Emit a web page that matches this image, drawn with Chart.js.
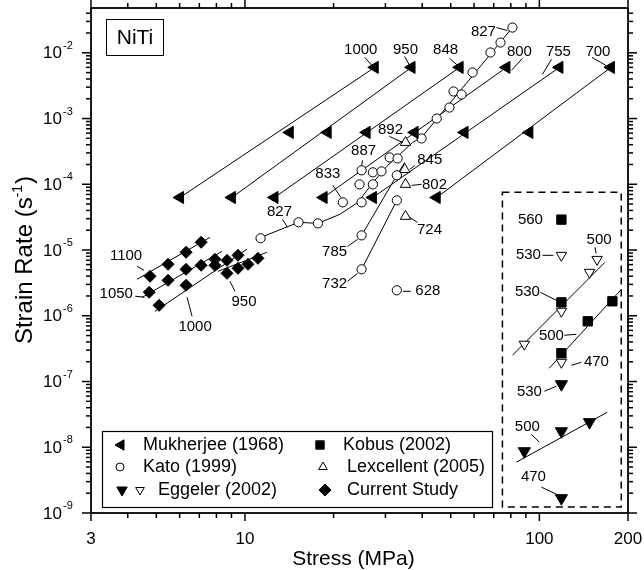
<!DOCTYPE html>
<html>
<head>
<meta charset="utf-8">
<script src="https://cdn.jsdelivr.net/npm/chart.js@4.4.1/dist/chart.umd.min.js"></script>
<style>
  body { margin: 0; background: #fff; }
</style>
</head>
<body>
<canvas id="chart" width="644" height="570"></canvas>
<script>
// stress (MPa) vs strain rate (1/s)
var mukherjee = [
  [27.6, 6.0e-3], [36.8, 6.0e-3], [53.6, 6.0e-3], [77.3, 6.0e-3], [117, 6.0e-3], [175, 6.0e-3],
  [14.2, 6.15e-4], [19.1, 6.15e-4], [25.9, 6.15e-4], [37.7, 6.15e-4], [55.7, 6.15e-4], [92.5, 6.15e-4],
  [6.02, 6.3e-5], [9.03, 6.3e-5], [12.6, 6.3e-5], [18.5, 6.3e-5], [27.2, 6.3e-5], [44.8, 6.3e-5]
];
var mukherjeeLines = [
  [[27.6, 6.0e-3], [6.02, 6.3e-5]],
  [[36.8, 6.0e-3], [9.03, 6.3e-5]],
  [[53.6, 6.0e-3], [12.6, 6.3e-5]],
  [[77.3, 6.0e-3], [18.5, 6.3e-5]],
  [[117, 6.0e-3], [27.2, 6.3e-5]],
  [[175, 6.0e-3], [44.8, 6.3e-5]]
];
var kato = [
  [81.0, 2.42e-2], [73.8, 1.43e-2], [68.2, 1.01e-2], [59.3, 5.02e-3], [51.1, 2.58e-3], [54.4, 2.32e-3],
  [49.5, 1.47e-3], [44.8, 1.0e-3], [39.8, 4.98e-4], [31.0, 2.56e-4], [33.0, 2.47e-4], [24.9, 1.63e-4],
  [27.2, 1.52e-4], [29.1, 1.57e-4], [24.5, 9.97e-5], [27.2, 9.97e-5], [21.5, 5.31e-5], [24.9, 5.31e-5],
  [32.8, 1.37e-4], [32.8, 5.69e-5], [24.9, 1.67e-5], [24.9, 5.09e-6], [32.8, 2.44e-6],
  [11.3, 1.51e-5], [15.2, 2.64e-5], [17.7, 2.54e-5]
];
var kato827 = [[10.9, 1.45e-5], [15.2, 2.64e-5], [17.7, 2.54e-5], [21.0, 3.49e-5], [24.2, 5.31e-5],
  [26.9, 9.97e-5], [30.3, 1.87e-4], [33.0, 2.65e-4], [37.1, 4.33e-4], [39.8, 5.16e-4], [81.0, 2.42e-2]];
var kato785 = [[24.9, 1.67e-5], [32.8, 1.37e-4], [34.9, 2.16e-4]];
var kato732 = [[24.9, 5.09e-6], [32.8, 5.69e-5]];
var lexcellent = [[35.1, 4.33e-4], [34.9, 1.68e-4], [35.1, 9.97e-5], [35.1, 3.25e-5]];
var current = [
  [4.76, 3.98e-6], [5.48, 6.06e-6], [6.31, 9.23e-6], [7.10, 1.31e-5],
  [4.73, 2.28e-6], [5.48, 3.46e-6], [6.31, 5.09e-6], [7.10, 5.85e-6], [7.91, 7.22e-6],
  [5.11, 1.44e-6], [6.31, 2.91e-6], [7.91, 5.85e-6], [8.69, 6.97e-6], [9.47, 8.31e-6],
  [8.69, 4.42e-6], [9.47, 5.27e-6], [10.24, 6.06e-6], [11.07, 7.48e-6]
];
var currentLines = [
  [[4.30, 3.59e-6], [7.61, 1.56e-5]],
  [[4.48, 1.91e-6], [8.36, 9.55e-6]],
  [[4.95, 1.17e-6], [10.16, 1.03e-5]],
  [[8.10, 4.74e-6], [11.87, 9.23e-6]]
];
var kobus = [[118.8, 2.9e-5], [118.8, 1.6e-6], [118.8, 2.69e-7], [146, 8.24e-7], [177, 1.66e-6]];
var kobusLine = [[108, 1.59e-7], [190, 2.53e-6]];
var eggelerOpen = [[118.8, 8.3e-6], [157, 7.2e-6], [148, 4.58e-6], [118.8, 1.17e-6], [88.9, 3.69e-7], [118.8, 1.96e-7]];
var eggelerOpenLine = [[81, 2.51e-7], [167, 6.5e-6]];
var eggelerFilled = [[118.8, 9.1e-8], [88.9, 8.7e-9], [118.8, 1.75e-8], [148, 2.41e-8], [118.8, 1.68e-9]];
var eggelerFilledLine = [[83.6, 5.94e-9], [170, 3.41e-8]];
var insetBox = [74.9, 189.7, 1.23e-9, 7.54e-5];

var xTickLabels = [3, 10, 100, 200];
var xMinor = [4, 5, 6, 7, 8, 9, 20, 30, 40, 50, 60, 70, 80, 90];
var yExponents = [-9, -8, -7, -6, -5, -4, -3, -2];

// text, anchor stress, anchor rate, then pixel offsets: label dx, dy, pointer x1, y1, x2, y2
var labels = [
  ['1000', 27.6, 6.0e-3, -14, -18, -10, -10, -3, -2],
  ['950', 36.8, 6.0e-3, -6, -18, -7, -11, -2, -2],
  ['848', 53.6, 6.0e-3, -14, -18, -10, -9, -2, -2],
  ['800', 77.3, 6.0e-3, 13, -16, 16, -9, 5, 3],
  ['755', 117, 6.0e-3, -1, -16, -8, -8, -17, 7],
  ['700', 175, 6.0e-3, -13, -16, -19, -10, -5, -2],
  ['827', 81.0, 2.42e-2, -29, 4, -16, 0, -5, 3],
  ['892', 35.1, 4.33e-4, -15, -13, -16, -6, -3, 0],
  ['887', 24.9, 1.63e-4, 2, -19, 1, -10, 0, -5],
  ['833', 21.5, 5.31e-5, -15, -28, -10, -17, -2, -5],
  ['845', 34.9, 1.68e-4, 25, -10, 10, -4, 5, 0],
  ['802', 35.1, 9.97e-5, 29, 0, 6, 1, 16, 0],
  ['724', 35.1, 3.25e-5, 24, 13, 4, 1, 12, 6],
  ['827', 15.2, 2.64e-5, -19, -10, -16, -3, -11, 5],
  ['785', 24.9, 1.67e-5, -27, 16, -14, 11, -4, 4],
  ['732', 24.9, 5.09e-6, -27, 15, -14, 12, -4, 4],
  ['628', 32.8, 2.44e-6, 31, 1, 6, 1, 14, 1],
  ['1100', 4.76, 3.98e-6, -24, -20, -13, -10, -6, -6],
  ['1050', 4.73, 2.28e-6, -33, 2, -14, 4, -5, 5],
  ['1000', 6.31, 2.91e-6, 9, 42, 1, 12, 6, 31],
  ['950', 8.69, 4.42e-6, 17, 29, 3, 8, 8, 18],
  ['560', 118.8, 2.9e-5, -31, 0],
  ['530', 118.8, 8.3e-6, -33, 0, -19, 0, -8, 0],
  ['500', 157, 7.2e-6, 2, -20, -2, -12, -1, -6],
  ['530', 118.8, 1.6e-6, -34, -10, -21, -10, -5, -2],
  ['500', 118.8, 2.69e-7, -10, -17, 3, -18, 15, -19],
  ['470', 118.8, 1.96e-7, 35, 0, 10, 3, 20, 0],
  ['530', 118.8, 9.1e-8, -32, 8, -17, 7, -5, 2],
  ['500', 88.9, 8.7e-9, 3, -24, 7, -17, 15, -9],
  ['470', 118.8, 1.68e-9, -28, -21, -20, -11, -5, -4]
];

function pts(arr) {
  return arr.map(function(p) { return {x: p[0], y: p[1]}; });
}

function markers(arr, style, rot, r, filled) {
  return {
    data: pts(arr), showLine: false, order: 0,
    pointStyle: style, pointRotation: rot, pointRadius: r,
    pointBackgroundColor: filled ? '#000' : '#fff',
    pointBorderColor: '#000', pointBorderWidth: 1
  };
}

function line(arr) {
  return {
    data: pts(arr), showLine: true, order: 1, pointRadius: 0,
    borderColor: '#000', borderWidth: 1, fill: false, tension: 0
  };
}

var datasets = [
  markers(mukherjee, 'triangle', 270, 7, true),
  markers(kato, 'circle', 0, 4.6, false),
  markers(lexcellent, 'triangle', 0, 6, false),
  markers(current, 'rectRot', 0, 6, true),
  markers(kobus, 'rect', 0, 6.6, true),
  markers(eggelerOpen, 'triangle', 180, 6, false),
  markers(eggelerFilled, 'triangle', 180, 7, true),
  line(kato827), line(kato785), line(kato732),
  line(kobusLine), line(eggelerOpenLine), line(eggelerFilledLine)
];
mukherjeeLines.forEach(function(l) { datasets.push(line(l)); });
currentLines.forEach(function(l) { datasets.push(line(l)); });

function drawMarker(ctx, kind, x, y, r, filled) {
  ctx.beginPath();
  if (kind === 'circle') {
    ctx.arc(x, y, r, 0, Math.PI * 2);
  } else if (kind === 'square') {
    ctx.rect(x - r * 0.7, y - r * 0.7, r * 1.4, r * 1.4);
  } else if (kind === 'diamond') {
    ctx.moveTo(x, y - r); ctx.lineTo(x + r, y); ctx.lineTo(x, y + r); ctx.lineTo(x - r, y); ctx.closePath();
  } else {
    var rot = {up: 0, left: -Math.PI / 2, down: Math.PI}[kind];
    for (var i = 0; i < 3; i++) {
      var t = rot + i * 2 * Math.PI / 3;
      var px = x + Math.sin(t) * r, py = y - Math.cos(t) * r;
      if (i) ctx.lineTo(px, py); else ctx.moveTo(px, py);
    }
    ctx.closePath();
  }
  ctx.fillStyle = filled ? '#000' : '#fff';
  ctx.fill();
  ctx.lineWidth = 1;
  ctx.strokeStyle = '#000';
  ctx.stroke();
}

function seg(ctx, x1, y1, x2, y2) {
  ctx.beginPath(); ctx.moveTo(x1, y1); ctx.lineTo(x2, y2); ctx.stroke();
}

var FONT = '"Liberation Sans", Arial, sans-serif';

var decor = {
  id: 'decor',
  afterDatasetsDraw: function(chart) {
    var ctx = chart.ctx, a = chart.chartArea;
    var xs = chart.scales.x, ys = chart.scales.y;
    ctx.save();
    ctx.strokeStyle = '#000';
    ctx.fillStyle = '#000';

    // frame
    ctx.lineWidth = 1.8;
    ctx.strokeRect(a.left, a.top, a.right - a.left, a.bottom - a.top);

    // x ticks
    ctx.lineWidth = 1.5;
    xTickLabels.concat(xMinor).forEach(function(v) {
      var px = xs.getPixelForValue(v);
      var len = (v === 10 || v === 100 || v === 3 || v === 200) ? 8 : 5;
      seg(ctx, px, a.bottom, px, a.bottom + len);
      seg(ctx, px, a.top, px, a.top - len);
    });
    // y ticks
    yExponents.forEach(function(e) {
      for (var m = 1; m <= 9; m++) {
        var v = m * Math.pow(10, e);
        if (v > ys.max) break;
        var py = ys.getPixelForValue(v);
        var len = m === 1 ? 9 : 5;
        seg(ctx, a.left, py, a.left - len, py);
        seg(ctx, a.right, py, a.right + len, py);
      }
    });

    // tick labels
    ctx.font = '17px ' + FONT;
    ctx.textAlign = 'center';
    ctx.textBaseline = 'middle';
    xTickLabels.forEach(function(v) {
      ctx.fillText(String(v), xs.getPixelForValue(v), a.bottom + 26);
    });
    yExponents.forEach(function(e) {
      var py = ys.getPixelForValue(Math.pow(10, e));
      ctx.font = '17px ' + FONT;
      ctx.textAlign = 'right';
      ctx.fillText('10', a.left - 29, py + 1);
      ctx.font = '11px ' + FONT;
      ctx.textAlign = 'left';
      ctx.fillText('-' + Math.abs(e), a.left - 28, py - 7);
    });

    // axis titles
    ctx.font = '21px ' + FONT;
    ctx.textAlign = 'center';
    ctx.fillText('Stress (MPa)', (a.left + a.right) / 2 - 6, a.bottom + 46);

    ctx.save();
    ctx.translate(32, (a.top + a.bottom) / 2);
    ctx.rotate(-Math.PI / 2);
    ctx.textBaseline = 'alphabetic';
    ctx.textAlign = 'left';
    ctx.font = '24px ' + FONT;
    var t1 = 'Strain Rate (s', w1 = ctx.measureText(t1).width, w3 = ctx.measureText(')').width;
    ctx.font = '14px ' + FONT;
    var w2 = ctx.measureText('-1').width;
    var x0 = -(w1 + w2 + w3) / 2;
    ctx.font = '24px ' + FONT;
    ctx.fillText(t1, x0, 0);
    ctx.fillText(')', x0 + w1 + w2 + 1, 0);
    ctx.font = '14px ' + FONT;
    ctx.fillText('-1', x0 + w1, -10);
    ctx.restore();

    // NiTi box
    ctx.lineWidth = 1;
    ctx.strokeRect(a.left + 15.5, a.top + 11.5, 57, 36);
    ctx.font = '21px ' + FONT;
    ctx.textAlign = 'center';
    ctx.textBaseline = 'middle';
    ctx.fillText('NiTi', a.left + 44, a.top + 30);

    // dashed inset
    var bx1 = xs.getPixelForValue(insetBox[0]), bx2 = xs.getPixelForValue(insetBox[1]);
    var by1 = ys.getPixelForValue(insetBox[3]), by2 = ys.getPixelForValue(insetBox[2]);
    ctx.save();
    ctx.setLineDash([7, 5]);
    ctx.lineWidth = 1.5;
    ctx.strokeRect(bx1, by1, bx2 - bx1, by2 - by1);
    ctx.restore();

    // data labels
    ctx.font = '15px ' + FONT;
    ctx.lineWidth = 1;
    labels.forEach(function(l) {
      var px = xs.getPixelForValue(l[1]), py = ys.getPixelForValue(l[2]);
      ctx.fillText(l[0], px + l[3], py + l[4]);
      if (l.length > 5) seg(ctx, px + l[5], py + l[6], px + l[7], py + l[8]);
    });

    // legend
    var lx = a.left + 11, ly = 431;
    ctx.fillStyle = '#fff';
    ctx.fillRect(lx, ly, 390, 76);
    ctx.fillStyle = '#000';
    ctx.lineWidth = 1.2;
    ctx.strokeRect(lx + 0.5, ly + 0.5, 390, 76);
    var rows = [ly + 14, ly + 36, ly + 59];
    drawMarker(ctx, 'left', lx + 19, rows[0], 6, true);
    drawMarker(ctx, 'circle', lx + 18, rows[1], 4, false);
    drawMarker(ctx, 'down', lx + 20, rows[2], 6, true);
    drawMarker(ctx, 'down', lx + 38, rows[2], 5, false);
    drawMarker(ctx, 'square', lx + 218, rows[0], 6, true);
    drawMarker(ctx, 'up', lx + 221, rows[1], 5, false);
    drawMarker(ctx, 'diamond', lx + 223, rows[2], 6, true);
    ctx.fillStyle = '#000';
    ctx.font = '18px ' + FONT;
    ctx.textAlign = 'left';
    ctx.fillText('Mukherjee (1968)', lx + 41, rows[0]);
    ctx.fillText('Kato (1999)', lx + 41, rows[1]);
    ctx.fillText('Eggeler (2002)', lx + 56, rows[2]);
    ctx.fillText('Kobus (2002)', lx + 241, rows[0]);
    ctx.fillText('Lexcellent (2005)', lx + 245, rows[1]);
    ctx.fillText('Current Study', lx + 245, rows[2]);

    ctx.restore();
  }
};

new Chart(document.getElementById('chart'), {
  type: 'scatter',
  data: { datasets: datasets },
  options: {
    responsive: false,
    animation: false,
    devicePixelRatio: 1,
    layout: { padding: { left: 91, right: 16, top: 8, bottom: 57 } },
    plugins: { legend: { display: false }, tooltip: { enabled: false } },
    scales: {
      x: { type: 'logarithmic', min: 3, max: 200, display: false },
      y: { type: 'logarithmic', min: 1e-9, max: 4.8e-2, display: false }
    }
  },
  plugins: [decor]
});
</script>
</body>
</html>
